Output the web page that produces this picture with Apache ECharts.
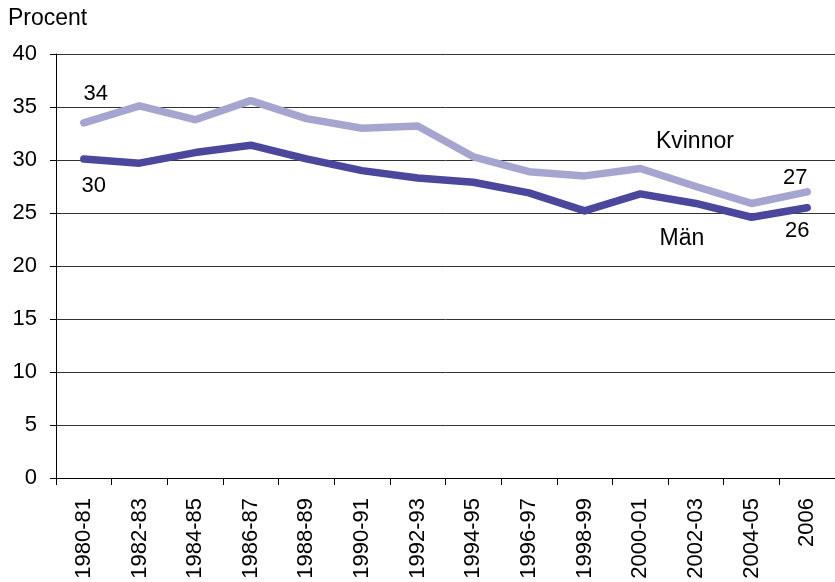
<!DOCTYPE html>
<html>
<head>
<meta charset="utf-8">
<script src="https://cdn.jsdelivr.net/npm/echarts@6/dist/echarts.min.js"></script>
<style>
    html, body { margin: 0; padding: 0; background: #fff; }
    #chart { width: 835px; height: 582px; }
</style>
</head>
<body>
<div id="chart"></div>
<script>
// kategorier (perioder)
const periods = ['1980-81', '1982-83', '1984-85', '1986-87', '1988-89', '1990-91', '1992-93',
    '1994-95', '1996-97', '1998-99', '2000-01', '2002-03', '2004-05', '2006'];
const kvinnor = [33.5, 35.1, 33.8, 35.6, 33.9, 33.0, 33.2, 30.3, 28.9, 28.5, 29.2, 27.5, 25.9, 27.0];
const man = [30.1, 29.7, 30.7, 31.4, 30.1, 29.0, 28.3, 27.9, 26.9, 25.2, 26.8, 25.9, 24.6, 25.5];
const yTicks = [0, 5, 10, 15, 20, 25, 30, 35, 40];

const font = 'Liberation Sans, Arial, sans-serif';
const chart = echarts.init(document.getElementById('chart'));

// etiketter på första och sista punkten
function withEndLabels(values, firstOffset, lastOffset) {
    return values.map((v, i) => {
        if (i === 0 || i === values.length - 1) {
            return {
                value: v,
                label: {
                    show: true,
                    position: 'inside',
                    offset: i === 0 ? firstOffset : lastOffset,
                    formatter: (p) => String(Math.round(p.value)),
                    color: '#000',
                    fontSize: 22,
                    fontFamily: font
                }
            };
        }
        return v;
    });
}

function nameMark(name, idx, values, offset) {
    return {
        symbol: 'circle',
        symbolSize: 0,
        silent: true,
        data: [{
            coord: [idx, values[idx]],
            label: {
                show: true,
                position: 'inside',
                offset: offset,
                formatter: name,
                color: '#000',
                fontSize: 23,
                fontFamily: font
            }
        }]
    };
}

const mark = periods.indexOf('2002-03');

chart.setOption({
    animation: false,
    textStyle: { fontFamily: font },
    graphic: [{
        type: 'text',
        left: 8,
        top: 7,
        style: { text: 'Procent', font: '23px ' + font, fill: '#000' }
    }],
    grid: { left: 56, top: 54, bottom: 104, right: -9 },
    xAxis: {
        type: 'category',
        data: periods,
        boundaryGap: true,
        axisLine: { lineStyle: { color: '#000', width: 1 } },
        axisTick: { show: true, length: 7, lineStyle: { color: '#000' } },
        axisLabel: { rotate: 90, margin: 20, fontSize: 22, color: '#000', fontFamily: font, interval: 0 }
    },
    yAxis: {
        type: 'value',
        min: yTicks[0],
        max: yTicks[yTicks.length - 1],
        interval: 5,
        axisLine: { show: true, lineStyle: { color: '#000', width: 1 } },
        axisTick: { show: true, length: 6, lineStyle: { color: '#000' } },
        axisLabel: { margin: 19, fontSize: 22, color: '#000', fontFamily: font },
        splitLine: { lineStyle: { color: '#333', width: 1 } }
    },
    series: [
        {
            name: 'Kvinnor',
            type: 'line',
            data: withEndLabels(kvinnor, [12, -29], [-12, -14]),
            symbol: 'circle',
            symbolSize: 1,
            showSymbol: true,
            itemStyle: { color: '#a5a5d0' },
            lineStyle: { color: '#a5a5d0', width: 7.5, cap: 'round', join: 'round' },
            markPoint: nameMark('Kvinnor', mark, kvinnor, [-1, -45])
        },
        {
            name: 'Män',
            type: 'line',
            data: withEndLabels(man, [10, 27], [-10, 23]),
            symbol: 'circle',
            symbolSize: 1,
            showSymbol: true,
            itemStyle: { color: '#4a479d' },
            lineStyle: { color: '#4a479d', width: 7.5, cap: 'round', join: 'round' },
            markPoint: nameMark('Män', mark, man, [-14, 35])
        }
    ]
});
</script>
</body>
</html>
